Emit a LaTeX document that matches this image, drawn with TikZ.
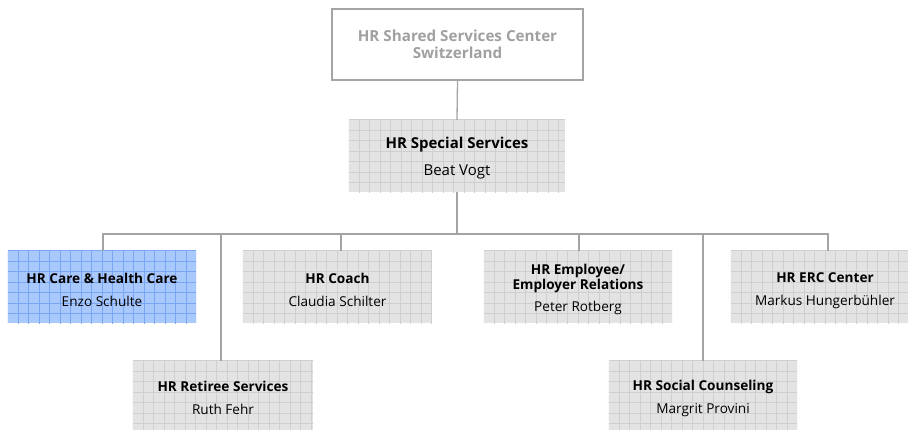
\documentclass[tikz,border=0pt]{standalone}
\usepackage{fontspec}
\setmainfont{Open Sans}
\definecolor{linegray}{HTML}{A4A4A4}
\definecolor{boxfill}{HTML}{E3E3E3}
\definecolor{boxgrid}{HTML}{CFCFCF}
\definecolor{bluefill}{HTML}{A9C8FC}
\definecolor{bluegrid}{HTML}{7AA6F4}
\definecolor{toptext}{HTML}{A0A0A0}
\newcommand\gridover[2]{%
  \begin{scope}
    \clip (#1.north west) rectangle (#1.south east);
    \draw[#2, line width=0.65pt, shift={(#1.north west)}] (0,0) grid[step=10.5pt] (300,300);
  \end{scope}}
\tikzset{
  x=1pt, y=-1pt,
  conn/.style={draw=linegray, line width=1.3pt},
  unitbox/.style={rectangle, inner sep=0pt, fill=#1fill},
  unittext/.style={align=center, inner sep=0pt, font=\fontsize{13.6}{16}\selectfont},
  bigtext/.style={align=center, inner sep=0pt, font=\fontsize{15}{18}\selectfont},
  topbox/.style={rectangle, draw=linegray, line width=1.2pt, fill=white, align=center,
    font=\fontsize{15.2}{17}\selectfont\bfseries, text=toptext},
}
\begin{document}
\begin{tikzpicture}
\useasboundingbox (0,0) rectangle (908,430);
\node[topbox, minimum width=251pt, minimum height=71pt] (top) at (457.5,44.5) {HR Shared Services Center\\Switzerland};
% unit boxes
\node[unitbox=box, minimum width=216pt, minimum height=72pt] (spec) at (457,156) {};
\node[unitbox=blue, minimum width=188pt, minimum height=72pt] (care) at (102,287) {};
\node[unitbox=box, minimum width=189pt, minimum height=72pt] (coach) at (337.5,287) {};
\node[unitbox=box, minimum width=188pt, minimum height=72pt] (empl) at (578,287) {};
\node[unitbox=box, minimum width=188pt, minimum height=72pt] (erc) at (825,287) {};
\node[unitbox=box, minimum width=180pt, minimum height=70pt] (ret) at (223,396) {};
\node[unitbox=box, minimum width=188pt, minimum height=70pt] (soc) at (703,396) {};
\gridover{spec}{boxgrid}
\gridover{care}{bluegrid}
\gridover{coach}{boxgrid}
\gridover{empl}{boxgrid}
\gridover{erc}{boxgrid}
\gridover{ret}{boxgrid}
\gridover{soc}{boxgrid}
% texts
\node[bigtext] (specT) at ([yshift=-2.5pt]spec.center) {\textbf{HR Special Services}\\[9pt]Beat Vogt};
\node[unittext] (careT) at ([yshift=-2.5pt]care.center) {\textbf{HR Care \& Health Care}\\[7pt]Enzo Schulte};
\node[unittext] (coachT) at ([yshift=-2.5pt]coach.center) {\textbf{HR Coach}\\[7pt]Claudia Schilter};
\node[unittext] (emplT) at ([yshift=-2pt]empl.center) {\textbf{HR Employee/}\\[-1pt]\textbf{Employer Relations}\\[6pt]Peter Rotberg};
\node[unittext] (ercT) at ([yshift=-4pt]erc.center) {\textbf{HR ERC Center}\\[7pt]Markus Hungerbühler};
\node[unittext] (retT) at ([yshift=-2pt]ret.center) {\textbf{HR Retiree Services}\\[7pt]Ruth Fehr};
\node[unittext] (socT) at ([yshift=-2pt]soc.center) {\textbf{HR Social Counseling}\\[7pt]Margrit Provini};
% connectors
\coordinate (bus) at (457,234);
\draw[conn] (top.south) -- (spec.north);
\draw[conn] (spec.south) -- (bus);
\draw[conn] (care.north -| 103,0) |- (bus);
\draw[conn] (erc.north -| 828,0) |- (bus);
\draw[conn] (coach.north -| 341,0) -- (341,234);
\draw[conn] (empl.north -| 579,0) -- (579,234);
\draw[conn] (ret.north -| 221,0) -- (221,234);
\draw[conn] (soc.north) -- (703,234);
\end{tikzpicture}
\end{document}
